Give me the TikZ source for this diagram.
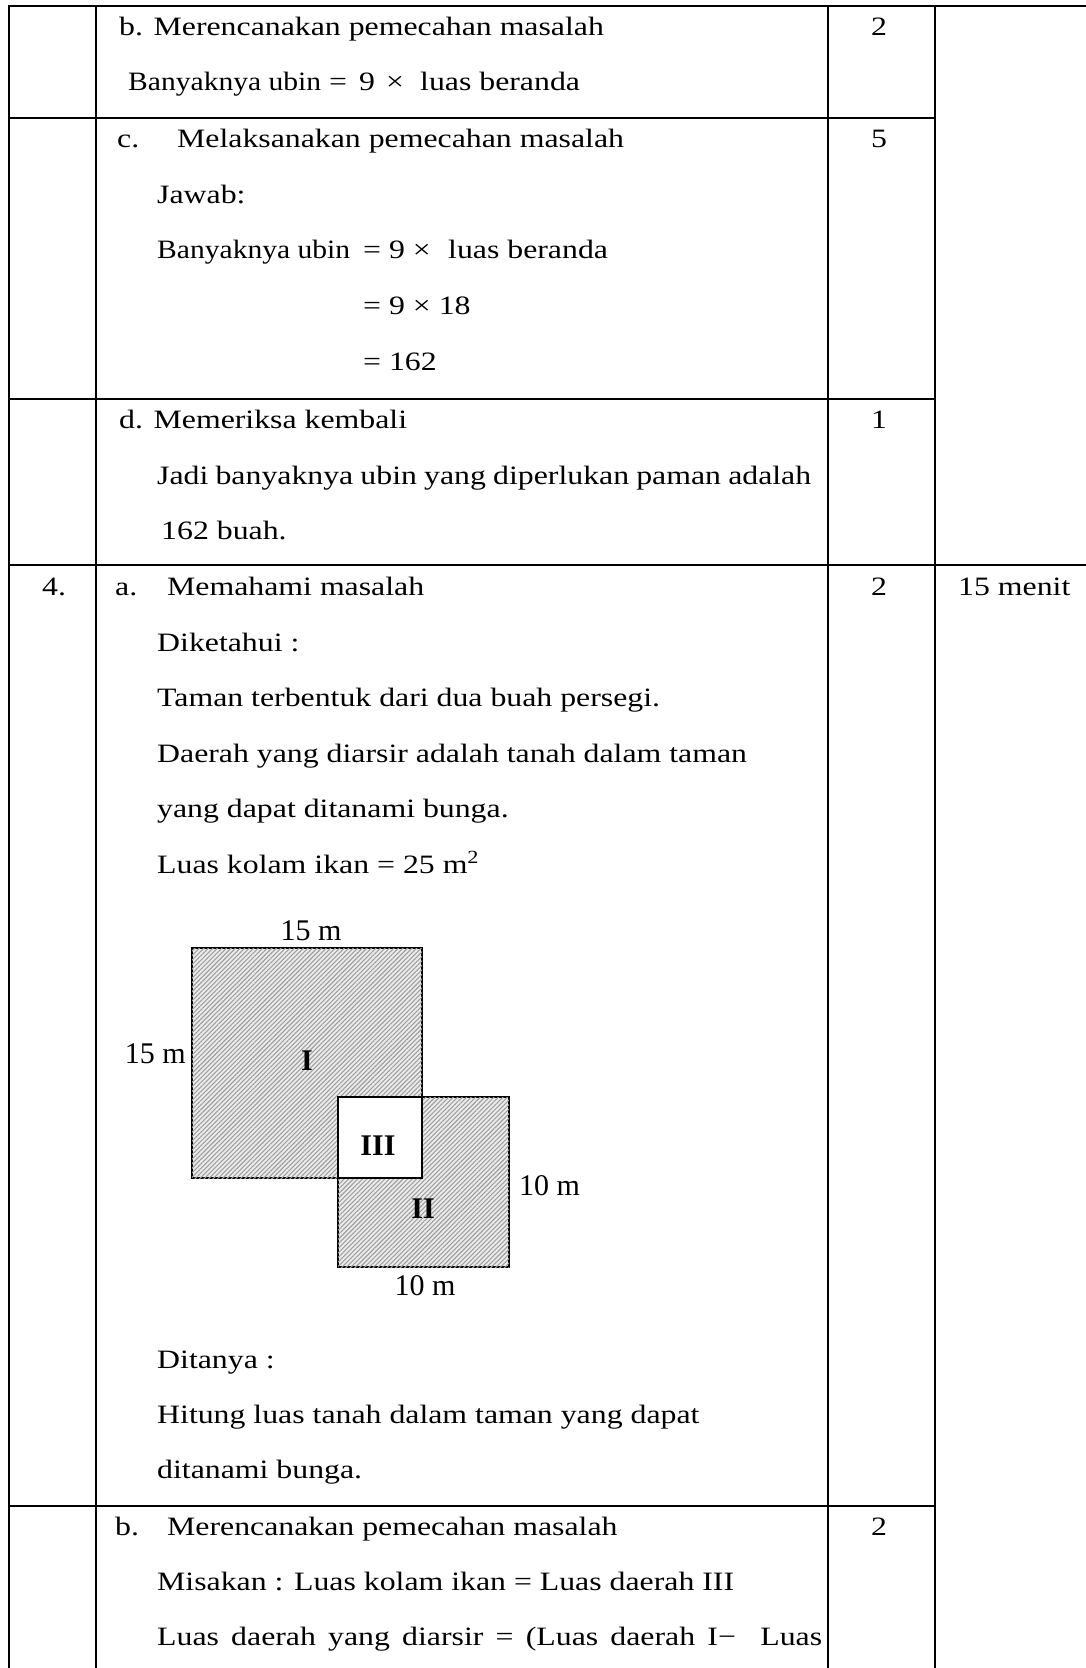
\documentclass[tikz,border=0pt]{standalone}
\usepackage{fontspec}
\setmainfont{Liberation Serif}[FakeStretch=1.2]
\newfontfamily\figfont{Liberation Serif}
\usetikzlibrary{patterns.meta}
\begin{document}
\begin{tikzpicture}[x=1pt,y=-1pt,
  rule/.style={line width=2pt},
  txt/.style={anchor=base west, inner sep=0pt, font=\fontsize{26.5}{30}\selectfont},
  num/.style={anchor=base, inner sep=0pt, font=\fontsize{26.5}{30}\selectfont},
  figlab/.style={anchor=base, inner sep=0pt, font=\figfont\fontsize{30}{34}\selectfont},
  roman/.style={anchor=base, inner sep=0pt, font=\figfont\bfseries\fontsize{30}{34}\selectfont},
  hatch/.style={draw=black, line width=1.6pt, fill=gray!15,
    postaction={pattern={Lines[angle=45,distance=3.2pt,line width=1.1pt]}, pattern color=gray!75}},
  plainsq/.style={draw=black, line width=1.6pt, fill=white},
]
\useasboundingbox (0,0) rectangle (1086,1668);
\fill[white] (0,0) rectangle (1086,1668);

% ---- table rules ----
\draw[rule] (9,6) -- (1086,6);
\draw[rule] (9,118) -- (934.5,118);
\draw[rule] (9,399) -- (934.5,399);
\draw[rule] (9,565) -- (1086,565);
\draw[rule] (9,1506) -- (934.5,1506);
\draw[rule] (9,5) -- (9,1668);
\draw[rule] (95.7,5) -- (95.7,1668);
\draw[rule] (828,5) -- (828,1668);
\draw[rule] (934.5,5) -- (934.5,1668);

% ---- row b ----
\node[txt] (b1) at (119,35) {b. Merencanakan pemecahan masalah};
\node[num] (bs) at (879,35) {2};
\node[txt] (b2a) at (128,90) {\scalebox{0.93}[1]{Banyaknya ubin}};
\node[txt] (b2b) at (329,90) {=};
\node[txt] (b2c) at (359,90) {9};
\node[txt] (b2d) at (386,90) {×};
\node[txt] (b2e) at (420,90) {luas beranda};

% ---- row c ----
\node[txt] (c0) at (117,147) {c.};
\node[txt] (c1) at (177,147) {Melaksanakan pemecahan masalah};
\node[num] (cs) at (879,147) {5};
\node[txt] (c2) at (157,203) {Jawab:};
\node[txt] (c3a) at (157,258) {\scalebox{0.93}[1]{Banyaknya ubin}};
\node[txt] (c3b) at (363,258) {= 9 ×};
\node[txt] (c3c) at (448,258) {luas beranda};
\node[txt] (c4) at (363,314) {= 9 × 18};
\node[txt] (c5) at (363,370) {= 162};

% ---- row d ----
\node[txt] (d1) at (119,428) {d. Memeriksa kembali};
\node[num] (ds) at (879,428) {1};
\node[txt] (d2) at (157,484) {\makebox[654pt][s]{Jadi banyaknya ubin yang diperlukan paman adalah}};
\node[txt] (d3) at (161,539) {162 buah.};

% ---- row 4a ----
\node[txt] (n4) at (42,595) {4.};
\node[txt] (a0) at (115,595) {a.};
\node[txt] (a1) at (167,595) {Memahami masalah};
\node[num] (as) at (879,595) {2};
\node[txt] (tm) at (958,595) {15 menit};
\node[txt] (a2) at (157,651) {Diketahui :};
\node[txt] (a3) at (157,706) {Taman terbentuk dari dua buah persegi.};
\node[txt] (a4) at (157,762) {Daerah yang diarsir adalah tanah dalam taman};
\node[txt] (a5) at (157,817) {yang dapat ditanami bunga.};
\node[txt] (a6) at (157,873) {Luas kolam ikan = 25 m\textsuperscript{2}};

% ---- figure ----
\draw[hatch] (192,948) rectangle (422,1178);
\draw[hatch] (338,1097) rectangle (509,1267);
\draw[plainsq] (338,1097) rectangle (422,1178);
\node[figlab] (l15t) at (311,940) {15 m};
\node[figlab, anchor=base east] (l15l) at (186,1063) {15 m};
\node[roman] (rI) at (307,1070) {I};
\node[roman] (rIII) at (378,1155) {III};
\node[roman] (rII) at (423,1218) {II};
\node[figlab, anchor=base west] (l10r) at (519,1195) {10 m};
\node[figlab] (l10b) at (425,1295) {10 m};

\node[txt] (a7) at (157,1368) {Ditanya :};
\node[txt] (a8) at (157,1423) {Hitung luas tanah dalam taman yang dapat};
\node[txt] (a9) at (157,1478) {ditanami bunga.};

% ---- row 4b ----
\node[txt] (e0) at (115,1535) {b.};
\node[txt] (e1) at (167,1535) {Merencanakan pemecahan masalah};
\node[num] (es) at (879,1535) {2};
\node[txt] (e2) at (157,1590) {Misakan : Luas kolam ikan = Luas daerah III};
\node[txt] (e3) at (157,1645) {\makebox[665pt][s]{Luas daerah yang diarsir = (Luas daerah I−\ \ Luas}};
\end{tikzpicture}
\end{document}
